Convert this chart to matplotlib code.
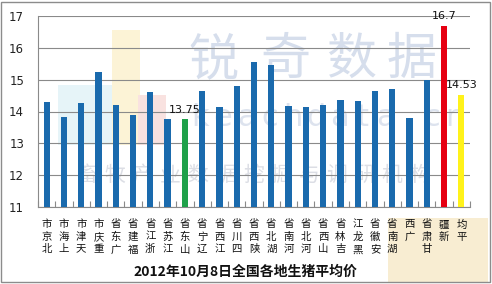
import matplotlib
matplotlib.use("Agg")
import matplotlib.pyplot as plt
from matplotlib.patches import Rectangle
import numpy as np

plt.rcParams['font.family'] = ['Noto Sans CJK SC', 'DejaVu Sans']

categories = ["北京市", "上海市", "天津市", "重庆市", "广东省", "福建省", "浙江省",
              "江苏省", "山东省", "辽宁省", "江西省", "四川省", "陕西省", "湖北省",
              "河南省", "河北省", "山西省", "吉林省", "黑龙江", "安徽省", "湖南省",
              "广西", "甘肃省", "新疆", "平均"]
values = [14.29, 13.82, 14.26, 15.25, 14.20, 13.90, 14.60,
          13.76, 13.75, 14.64, 14.13, 14.80, 15.55, 15.45,
          14.16, 14.13, 14.19, 14.35, 14.33, 14.63, 14.70,
          13.80, 15.00, 16.70, 14.53]
labelled = {8: "13.75", 23: "16.7", 24: "14.53"}
title = "2012年10月8日全国各地生猪平均价"
yticks = [11, 12, 13, 14, 15, 16, 17]

W, H = 492, 284
fig = plt.figure(figsize=(W / 100, H / 100), dpi=100)
fig.patch.set_facecolor("white")

def fx(px):
    return px / W

def fy(py):
    return 1 - py / H

# faint background decorations (watermark logo)
for (x0, y0, x1, y1, c) in [(58, 85, 112, 145, "#e6f4f8"), (112, 30, 140, 145, "#fcf3d6"),
                            (138, 95, 166, 145, "#f9e2e0"), (388, 218, 488, 282, "#f8edd2")]:
    fig.patches.append(Rectangle((fx(x0), fy(y1)), fx(x1) - fx(x0), fy(y0) - fy(y1),
                                 transform=fig.transFigure, facecolor=c, edgecolor="none",
                                 zorder=0))

# watermark texts (behind the axes)
wm = "#d6deec"
for ch, cx in zip("锐奇数据", [213, 285, 351, 412]):
    fig.text(fx(cx), fy(60), ch, fontsize=36, color=wm, ha="center", va="center", zorder=1)
for ch, cx in zip("keachdata.cn", np.linspace(200, 455, 12)):
    fig.text(fx(cx), fy(118), ch, fontsize=22, color="#dde3ee", ha="center", va="center",
             family="DejaVu Sans", zorder=1)
for ch, cx in zip("畜牧产业数据挖掘与调研机构", np.linspace(87, 420, 13)):
    fig.text(fx(cx), fy(175), ch, fontsize=15, color="#dcdee5", ha="center", va="center", zorder=1)

ax = fig.add_axes([fx(38), fy(207), fx(470) - fx(38), fy(16) - fy(207)])
ax.set_facecolor("none")
ax.set_zorder(2)

colors = ["#1a6aad"] * len(values)
colors[8] = "#1fa14a"
colors[23] = "#e60012"
colors[24] = "#fff21a"

x = np.arange(len(categories))
ax.bar(x, [v - 11 for v in values], bottom=11, width=0.36, color=colors, zorder=3)
for i, t in labelled.items():
    ax.text(x[i], values[i] + 0.13, t, ha="center", va="bottom", fontsize=8,
            family="DejaVu Sans", color="#111111", zorder=4)

ax.set_xlim(-0.5, len(categories) - 0.5)
ax.set_ylim(11, 17)
ax.set_yticks(yticks)
ax.set_yticklabels([str(t) for t in yticks], family="DejaVu Sans", fontsize=8.5, color="#222222")
ax.tick_params(axis="y", length=0, pad=10)
ax.yaxis.grid(True, color="#8a8a8a", linewidth=0.8, zorder=1)
ax.set_axisbelow(True)

ax.set_xticks(x)
ax.set_xticklabels(["\n".join(reversed(c)) for c in categories], fontsize=7.5,
                   linespacing=1.3, va="top", color="#111111")
ax.tick_params(axis="x", which="major", length=0, pad=9)
ax.set_xticks(np.arange(-0.5, len(categories), 1.0), minor=True)
ax.tick_params(axis="x", which="minor", length=4, direction="in", color="#8a8a8a", width=0.8)

for s in ["top", "right"]:
    ax.spines[s].set_visible(False)
for s in ["left", "bottom"]:
    ax.spines[s].set_color("#8a8a8a")
    ax.spines[s].set_linewidth(0.8)

fig.text(fx(245), fy(272), title, fontsize=10, fontweight="bold", ha="center", va="center",
         color="#111111", zorder=3)

# outer border
fig.patches.append(Rectangle((fx(1), fy(282)), fx(490) - fx(1), fy(1.5) - fy(282),
                             transform=fig.transFigure, fill=False, edgecolor="#8c8c8c",
                             linewidth=1.0, zorder=5))

fig.savefig("out.png", dpi=100)
